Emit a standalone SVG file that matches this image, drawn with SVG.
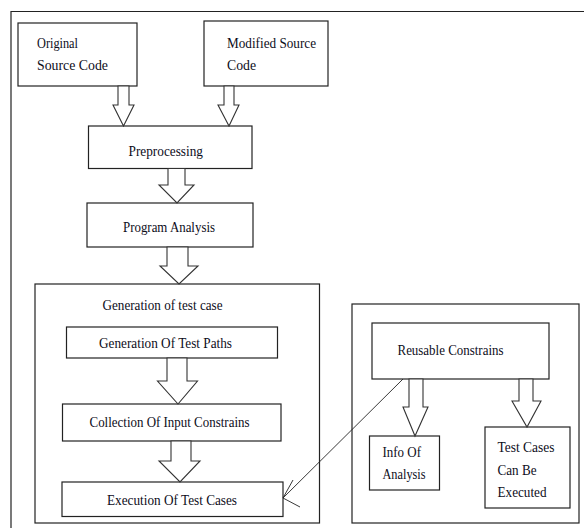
<svg xmlns="http://www.w3.org/2000/svg" width="584" height="528" viewBox="0 0 584 528">
<style>
.box{fill:#fff;stroke:#222;stroke-width:1.2}
.frame{fill:none;stroke:#222;stroke-width:1.2}
.blk{fill:#fff;stroke:#333;stroke-width:1.1;stroke-linejoin:miter}
.t{font-family:"Liberation Serif","Times New Roman",serif;font-size:15.5px;fill:#0d0d1a}
.thin{fill:none;stroke:#222;stroke-width:0.9}
</style>
<rect width="584" height="528" fill="#fff"/>
<path class="frame" d="M11,528 V11.5 H584" stroke-width="1.6"/>

<g id="original">
<rect class="box" x="18" y="23" width="119" height="63"/>
<text class="t" x="37" y="47.5" textLength="41" lengthAdjust="spacingAndGlyphs">Original</text>
<text class="t" x="37" y="70" textLength="71" lengthAdjust="spacingAndGlyphs">Source Code</text>
</g>
<g id="modified">
<rect class="box" x="204" y="21" width="124" height="65"/>
<text class="t" x="227" y="47.5" textLength="89" lengthAdjust="spacingAndGlyphs">Modified Source</text>
<text class="t" x="227" y="70" textLength="29" lengthAdjust="spacingAndGlyphs">Code</text>
</g>
<g id="preprocessing">
<rect class="box" x="88.5" y="126" width="163.5" height="42.5"/>
<text class="t" x="128.5" y="156" textLength="74.5" lengthAdjust="spacingAndGlyphs">Preprocessing</text>
</g>
<g id="program-analysis">
<rect class="box" x="87" y="203" width="166" height="44"/>
<text class="t" x="123" y="232" textLength="92" lengthAdjust="spacingAndGlyphs">Program Analysis</text>
</g>
<g id="generation-test-case">
<rect class="box" x="35" y="284" width="284.5" height="239"/>
<text class="t" x="102.5" y="310" textLength="120" lengthAdjust="spacingAndGlyphs">Generation of test case</text>
</g>
<g id="test-paths">
<rect class="box" x="66.5" y="327" width="211" height="31"/>
<text class="t" x="99" y="348" textLength="133" lengthAdjust="spacingAndGlyphs">Generation Of Test Paths</text>
</g>
<g id="input-constrains">
<rect class="box" x="62.5" y="404" width="218.5" height="37"/>
<text class="t" x="89.5" y="427" textLength="160" lengthAdjust="spacingAndGlyphs">Collection Of Input Constrains</text>
</g>
<g id="execution">
<rect class="box" x="62" y="482" width="221" height="34.5"/>
<text class="t" x="107" y="504.5" textLength="130" lengthAdjust="spacingAndGlyphs">Execution Of Test Cases</text>
</g>
<g id="reuse-group">
<rect class="box" x="352" y="304" width="227" height="219"/>
</g>
<g id="reusable">
<rect class="box" x="372" y="323" width="177" height="56"/>
<text class="t" x="397.5" y="355" textLength="106" lengthAdjust="spacingAndGlyphs">Reusable Constrains</text>
</g>
<g id="info">
<rect class="box" x="369.5" y="436" width="70" height="54"/>
<text class="t" x="382.5" y="457" textLength="38.5" lengthAdjust="spacingAndGlyphs">Info Of</text>
<text class="t" x="382.5" y="479" textLength="43" lengthAdjust="spacingAndGlyphs">Analysis</text>
</g>
<g id="executed">
<rect class="box" x="485" y="427" width="85" height="81"/>
<text class="t" x="497.5" y="452" textLength="57" lengthAdjust="spacingAndGlyphs">Test Cases</text>
<text class="t" x="497.5" y="474.5" textLength="39" lengthAdjust="spacingAndGlyphs">Can Be</text>
<text class="t" x="497.5" y="497" textLength="49" lengthAdjust="spacingAndGlyphs">Executed</text>
</g>

<g id="connectors">
<path class="blk" d="M118,86 H129 V105 H134 L123.5,126 L113,105 H118 Z"/>
<path class="blk" d="M224,86 H234 V105 H239 L229,126 L218,105 H224 Z"/>
<path class="blk" d="M168,168.5 H185 V185 H194 L177,203 L159,185 H168 Z"/>
<path class="blk" d="M167,247 H188 V266 H198 L179,284 L160,266 H167 Z"/>
<path class="blk" d="M167,358 H187 V381 H197.5 L178,404 L157.5,381 H167 Z"/>
<path class="blk" d="M171,441 H191 V461 H200 L180,482 L159,461 H171 Z"/>
<path class="blk" d="M409,379 H423 V407 H428 L415,436 L403,407 H409 Z"/>
<path class="blk" d="M519,379 H533 V401 H541 L527,427 L512,401 H519 Z"/>
<path class="thin" d="M403,379 L283,498 M300,507 L283,498 L293,480"/>
</g>
</svg>
